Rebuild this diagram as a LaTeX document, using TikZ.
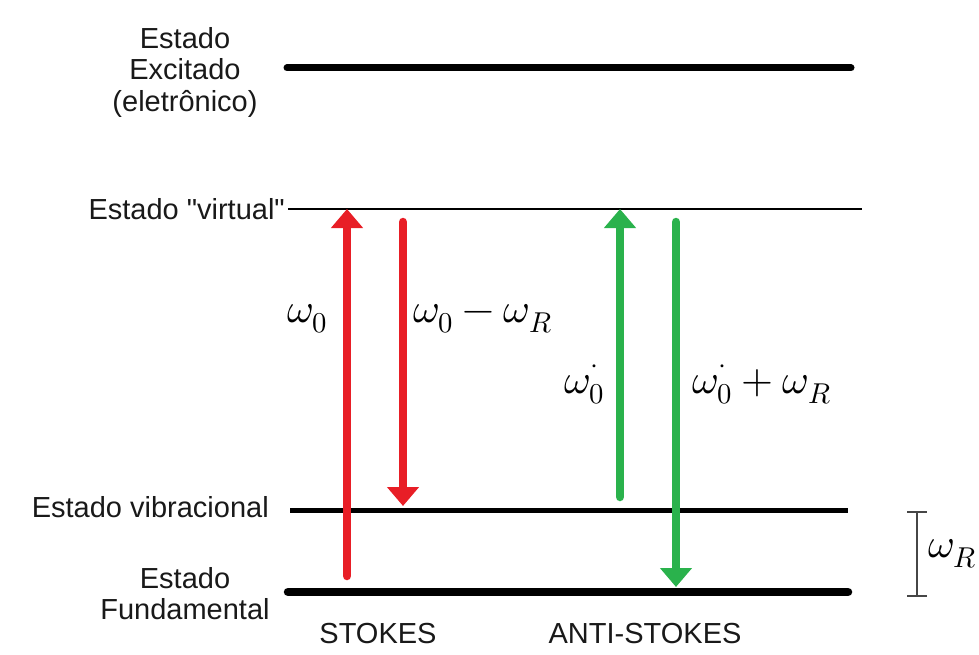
\documentclass[tikz,border=0pt]{standalone}
\usepackage{fontspec}
\usepackage{unicode-math}
\setmainfont{Liberation Sans}[Ligatures=TeXOff]
\setmathfont{Latin Modern Math}
\usetikzlibrary{arrows.meta}
\definecolor{stokesred}{RGB}{232,30,38}
\definecolor{antigreen}{RGB}{42,178,76}
\definecolor{bracketgray}{RGB}{70,70,70}
\begin{document}
\begin{tikzpicture}[x=1pt,y=-1pt,
  levelline/.style={draw=black},
  lbl/.style={inner sep=0pt,font=\fontsize{29}{31.5}\selectfont,text=black!90},
  freq/.style={inner sep=0pt,font=\fontsize{41}{44}\selectfont},
  photon/.style={line width=8.5pt,line cap=round,
    -{Triangle[width=31pt,length=19pt]}},
  gap/.style={draw=bracketgray,line width=2pt,
    {Bar[width=20pt,line width=2pt]}-{Bar[width=20pt,line width=2pt]}}]
\useasboundingbox (0,0) rectangle (979,655);

% energy levels
\coordinate (exA) at (287,68);   \coordinate (exB) at (851,68);
\coordinate (viA) at (288,209);  \coordinate (viB) at (862,209);
\coordinate (vbA) at (290,510);  \coordinate (vbB) at (848,510);
\coordinate (fuA) at (288,592);  \coordinate (fuB) at (848,592);
\draw[levelline,line width=7pt,line cap=round] (exA) -- (exB);
\draw[levelline,line width=1.5pt] (viA) -- (viB);
\draw[levelline,line width=5pt] (vbA) -- (vbB);
\draw[levelline,line width=8.5pt,line cap=round] (fuA) -- (fuB);

% level names
\node[lbl,anchor=north,align=center] (nEx) at (185,27)
  {Estado\\Excitado\\(eletrônico)};
\node[lbl,anchor=base east] (nVi) at (285,219) {Estado "virtual"};
\node[lbl,anchor=base east] (nVb) at (269,517) {Estado vibracional};
\node[lbl,anchor=north,align=center] (nFu) at (185,567)
  {Estado\\Fundamental};
\node[lbl,anchor=base] (nSt) at (378,643) {STOKES};
\node[lbl,anchor=base] (nAs) at (645,643) {ANTI-STOKES};

% Stokes transitions
\coordinate (s1a) at (347,576); \coordinate (s1b) at (347,209);
\coordinate (s2a) at (403,222); \coordinate (s2b) at (403,506);
\draw[photon,stokesred] (s1a) -- (s1b);
\draw[photon,stokesred] (s2a) -- (s2b);

% anti-Stokes transitions
\coordinate (a1a) at (620,497); \coordinate (a1b) at (620,209);
\coordinate (a2a) at (676,222); \coordinate (a2b) at (676,587);
\draw[photon,antigreen] (a1a) -- (a1b);
\draw[photon,antigreen] (a2a) -- (a2b);

% frequencies
\node[freq,anchor=base west] (f1) at (287,322) {$\omega_0$};
\node[freq,anchor=base west] (f2) at (413,322) {$\omega_0-\omega_R$};
\node[freq,anchor=base west] (f3) at (564,393)
  {$\omega_0^{\raisebox{5pt}{$\scriptstyle\cdot$}}$};
\node[freq,anchor=base west] (f4) at (692,393)
  {$\omega_0^{\raisebox{5pt}{$\scriptstyle\cdot$}}+\omega_R$};

% vibrational gap
\coordinate (gT) at (917,511); \coordinate (gB) at (917,597);
\draw[gap] (gT) -- (gB);
\node[freq,anchor=base west] (f5) at (928,557) {$\omega_R$};
\end{tikzpicture}
\end{document}
